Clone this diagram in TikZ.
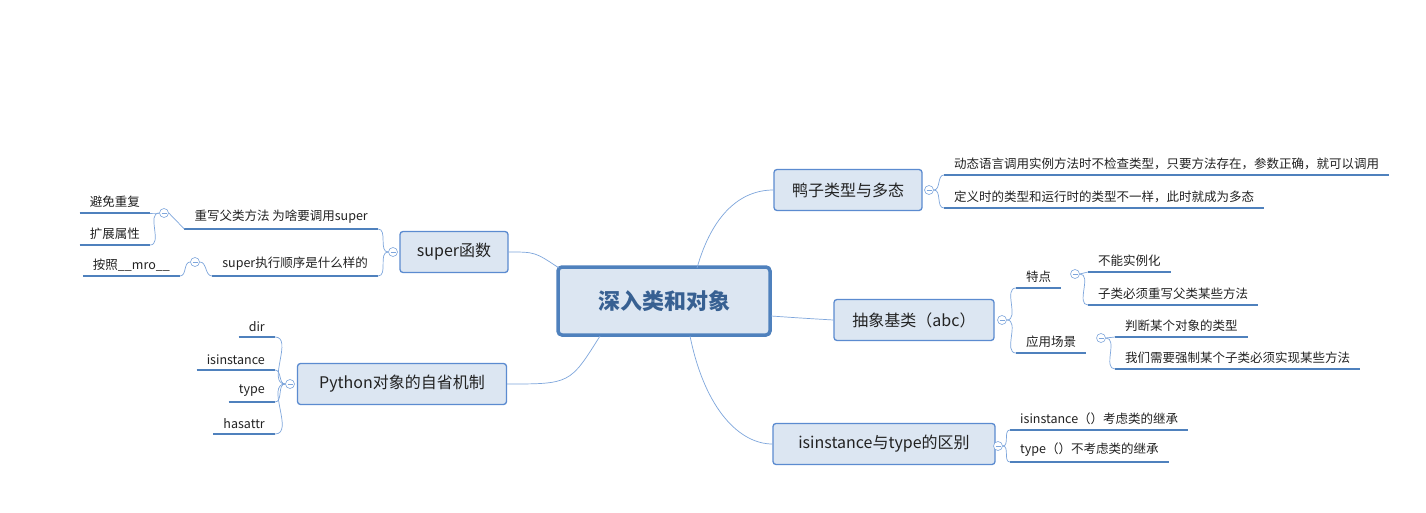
\documentclass[tikz,border=0pt]{standalone}
\usepackage{fontspec}
\setmainfont{Noto Sans CJK SC}
\begin{document}
\begin{tikzpicture}[x=1pt,y=-1pt,
  conn/.style={draw=lnc,line width=0.7pt},
  uline/.style={draw=ulc,line width=2pt},
  branch/.style={draw=bdc,fill=bfill,line width=1.3pt,rounded corners=3pt,font=\fontsize{16}{18}\selectfont,text=txt,inner sep=0pt},
  leafR/.style={anchor=south west,inner xsep=10pt,inner ysep=5pt,font=\fontsize{12.5}{14}\selectfont,text=txt},
  leafL/.style={anchor=south east,inner xsep=10pt,inner ysep=5pt,font=\fontsize{12.5}{14}\selectfont,text=txt},
  coll/.style={circle,draw=lnc,fill=white,minimum size=9pt,inner sep=0pt,line width=0.6pt,
    path picture={\draw[lnc,line width=0.6pt] ([xshift=-2.5pt]path picture bounding box.center)--([xshift=2.5pt]path picture bounding box.center);}}
]
\definecolor{lnc}{HTML}{7EA6DC}
\definecolor{ulc}{HTML}{4F81BD}
\definecolor{bdc}{HTML}{5B8BD0}
\definecolor{bfill}{HTML}{DCE6F2}
\definecolor{txt}{HTML}{222222}
\useasboundingbox[fill=white] (0,0) rectangle (1426,513);

% central
\node[draw=ulc,fill=bfill,line width=3.5pt,rounded corners=4pt,minimum width=212pt,minimum height=68pt,font=\fontsize{22}{24}\selectfont\bfseries,text={rgb,255:red,55;green,96;blue,146}] (root) at (664,301) {深入类和对象};

% branches
\node[branch,minimum width=148pt,minimum height=41pt] (duck) at (848,190) {鸭子类型与多态};
\node[branch,minimum width=160pt,minimum height=41pt] (abc) at (914,320) {抽象基类（abc）};
\node[branch,minimum width=222pt,minimum height=41pt] (isn) at (884,444) {isinstance与type的区别};
\node[branch,minimum width=108pt,minimum height=41pt] (sup) at (454,252) {super函数};
\node[branch,minimum width=209pt,minimum height=41pt] (py) at (402,384) {Python对象的自省机制};

\coordinate (r1) at (697,268); \coordinate (r2) at (771,316);
\coordinate (r3) at (690,336); \coordinate (r4) at (559,268); \coordinate (r5) at (600,336);
\draw[conn] (r1) .. controls (712,215) and (740,190) .. (duck.west);
\draw[conn] (r2) .. controls (800,318) .. (abc.west);
\draw[conn] (r3) .. controls (705,410) and (740,444) .. (isn.west);
\draw[conn] (r4) .. controls (535,252) .. (sup.east);
\draw[conn] (r5) .. controls (570,384) .. (py.east);

% collapse markers
\node[coll] (c1) at (929,190) {};
\node[coll] (c2) at (1002,320) {};
\node[coll] (c3) at (998,446) {};
\node[coll] (c4) at (393,252) {};
\node[coll] (c5) at (290,384) {};

% duck leaves
\node[leafR] (d1) at (944,175) {动态语言调用实例方法时不检查类型，只要方法存在，参数正确，就可以调用};
\node[leafR] (d2) at (944,208) {定义时的类型和运行时的类型不一样，此时就成为多态};
\foreach \n in {d1,d2} {\draw[uline] (\n.south west)--(\n.south east);
  \draw[conn] (c1.east) to[out=0,in=180] (\n.south west);}

% abc leaves
\node[leafR] (a1) at (1016,288) {特点};
\node[leafR] (a2) at (1016,353) {应用场景};
\draw[uline] (a1.south west)--(a1.south east);
\draw[uline] (a2.south west)--(a2.south east);
\draw[conn] (c2.east) to[out=0,in=180] (a1.south west);
\draw[conn] (c2.east) to[out=0,in=180] (a2.south west);
\node[coll] (c6) at (1075,274) {};
\node[coll] (c7) at (1101,338) {};
\node[leafR] (a11) at (1088,272) {不能实例化};
\node[leafR] (a12) at (1088,305) {子类必须重写父类某些方法};
\node[leafR] (a21) at (1115,337) {判断某个对象的类型};
\node[leafR] (a22) at (1115,369) {我们需要强制某个子类必须实现某些方法};
\foreach \n in {a11,a12,a21,a22} {\draw[uline] (\n.south west)--(\n.south east);}
\draw[conn] (c6.east) to[out=0,in=180] (a11.south west);
\draw[conn] (c6.east) to[out=0,in=180] (a12.south west);
\draw[conn] (c7.east) to[out=0,in=180] (a21.south west);
\draw[conn] (c7.east) to[out=0,in=180] (a22.south west);

% isinstance leaves
\node[leafR] (i1) at (1010,430) {isinstance（）考虑类的继承};
\node[leafR] (i2) at (1010,462) {type（）不考虑类的继承};
\foreach \n in {i1,i2} {\draw[uline] (\n.south west)--(\n.south east);}
\draw[conn] (c3.east) to[out=0,in=180] (i1.south west);
\draw[conn] (c3.east) to[out=0,in=180] (i2.south west);

% super leaves
\node[leafL] (s1) at (378,229) {重写父类方法 为啥要调用super};
\node[leafL] (s2) at (378,276) {super执行顺序是什么样的};
\foreach \n in {s1,s2} {\draw[uline] (\n.south west)--(\n.south east);}
\draw[conn] (c4.west) to[out=180,in=0] (s1.south east);
\draw[conn] (c4.west) to[out=180,in=0] (s2.south east);
\node[coll] (c8) at (164,213) {};
\node[coll] (c9) at (195,262) {};
\draw[conn] (c8.east) -- (s1.south west);
\draw[conn] (c9.east) to[out=0,in=180] (s2.south west);
\node[leafL] (s11) at (150,213) {避免重复};
\node[leafL] (s12) at (150,245) {扩展属性};
\node[leafL] (s21) at (180,276) {按照\_\_mro\_\_};
\foreach \n in {s11,s12,s21} {\draw[uline] (\n.south west)--(\n.south east);}
\draw[conn] (c8.west) to[out=180,in=0] (s11.south east);
\draw[conn] (c8.west) to[out=180,in=0] (s12.south east);
\draw[conn] (c9.west) to[out=180,in=0] (s21.south east);

% python leaves
\node[leafL] (p1) at (275,337) {dir};
\node[leafL] (p2) at (275,370) {isinstance};
\node[leafL] (p3) at (275,402) {type};
\node[leafL] (p4) at (275,434) {hasattr};
\foreach \n in {p1,p2,p3,p4} {\draw[uline] (\n.south west)--(\n.south east);
  \draw[conn] (c5.west) to[out=180,in=0] (\n.south east);}
\end{tikzpicture}
\end{document}
